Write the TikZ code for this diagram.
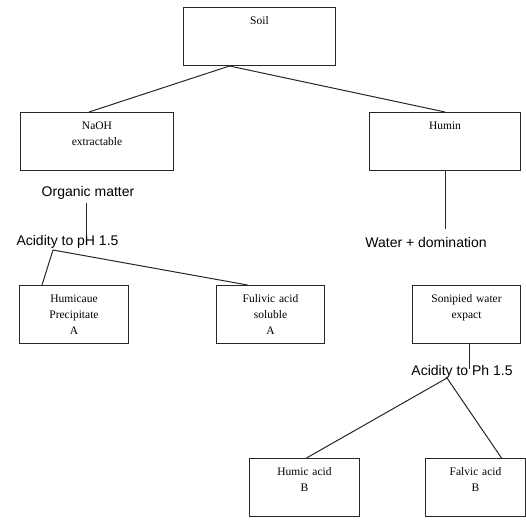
\documentclass[tikz,border=0pt]{standalone}
\usepackage{fontspec}
\setmainfont{Liberation Serif}
\setsansfont{Liberation Sans}
\usetikzlibrary{positioning, calc}

\begin{document}
\begin{tikzpicture}[x=1pt, y=1pt,
  box/.style={draw=black!85, line width=1pt, rectangle, anchor=north west, text width=#1,
    align=center, inner xsep=0pt, inner ysep=6pt, text height=11pt, text depth=35pt,
    font=\fontsize{11.5}{16}\selectfont},
  txt/.style={font=\sffamily\fontsize{14}{16}\selectfont, inner sep=0pt},
  link/.style={line width=1pt, black!85}]
  \useasboundingbox (0,0) rectangle (526,-519);
  % boxes
  \node[box=152pt] (soil) at (183,-7) {Soil};
  \node[box=153pt] (naoh) at (20,-112) {NaOH\\extractable};
  \node[box=151pt] (humin) at (369,-112) {Humin};
  \node[box=109pt] (humicaue) at (19,-285) {Humicaue\\Precipitate\\A};
  \node[box=108pt] (fulivic) at (216,-285) {Fulivic acid\\soluble\\A};
  \node[box=108pt] (sonipied) at (412,-285) {Sonipied water\\expact};
  \node[box=110pt] (humic) at (249,-458) {Humic acid\\B};
  \node[box=100pt] (falvic) at (425,-458) {Falvic acid\\B};
  % free texts
  \node[txt] (organic) at (88,-193) {Organic matter};
  \node[txt] (acidA) at (67.5,-242) {Acidity to pH 1.5};
  \node[txt] (water) at (426,-242) {Water + domination};
  \node[txt] (acidB) at (462,-372) {Acidity to Ph 1.5};
  \coordinate (forkA) at (53,-250);
  \coordinate (forkB) at (447,-378);
  % connectors
  \draw[link] ([xshift=-30pt]soil.south) -- ([xshift=-8pt]naoh.north);
  \draw[link] ([xshift=-30pt]soil.south) -- (humin.north);
  \draw[link] (humin.south) -- ($(humin.south |- water.north)+(0,8)$);
  \draw[link] ($(organic.south)+(-2,-3)$) -- ($(organic.south |- acidA.north)+(-2,-1.5)$);
  \draw[link] (forkA) -- ([xshift=-32pt]humicaue.north);
  \draw[link] (forkA) -- ([xshift=-23pt]fulivic.north);
  \draw[link] ([xshift=3pt]sonipied.south) -- ($(sonipied.south |- acidB.north)+(3,-4)$);
  \draw[link] (forkB) -- ([xshift=2pt]humic.north);
  \draw[link] (forkB) -- ([xshift=26pt]falvic.north);
\end{tikzpicture}
\end{document}
